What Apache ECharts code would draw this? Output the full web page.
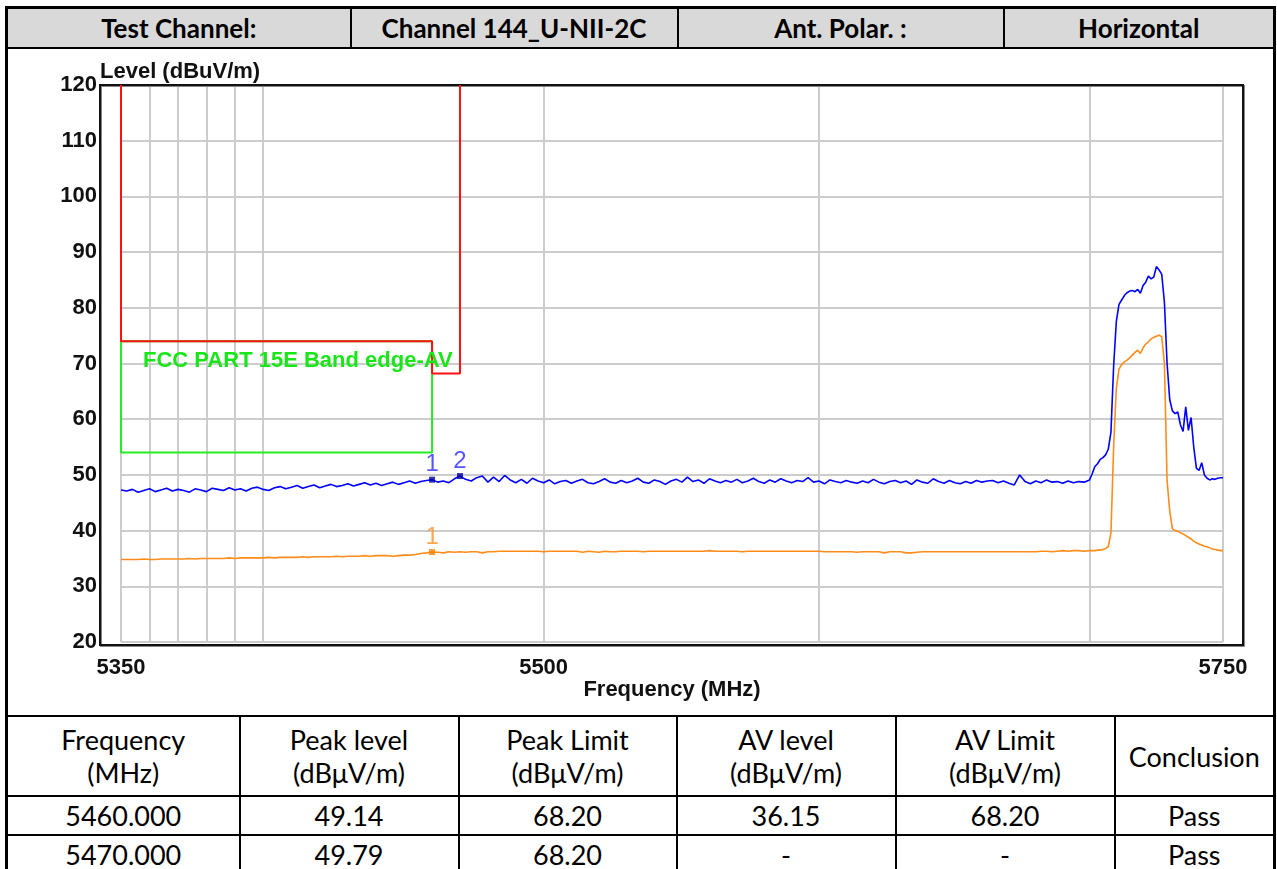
<!DOCTYPE html>
<html>
<head>
<meta charset="utf-8">
<script src="https://cdn.jsdelivr.net/npm/echarts@6/dist/echarts.min.js"></script>
<style>
  html, body { margin: 0; padding: 0; background: #fff; }
  #page { position: relative; width: 1277px; height: 869px; overflow: hidden; font-family: Lato, "Open Sans", sans-serif; }
  table { position: absolute; left: 5px; width: 1271px; border-collapse: collapse; table-layout: fixed; }
  td { border: 2px solid #000; text-align: center; padding: 0; color: #000; white-space: nowrap; }
  #head { top: 6px; }
  #head td { background: #d9d9d9; font-weight: bold; font-size: 26px; height: 38px; line-height: 30px; }
  #head tr td:first-child, #res tr td:first-child { border-left-width: 3px; }
  #head tr td:last-child, #res tr td:last-child { border-right-width: 3px; }
  #head td { border-top-width: 3px; }
  #mid { position: absolute; left: 5px; top: 48px; width: 1265px; height: 668px; border-left: 3px solid #000; border-right: 3px solid #000; }
  #res { top: 715px; }
  #res td { font-size: 27px; height: 37px; line-height: 33px; }
  #res tr.hd td { height: 78px; }
  #echart { position: absolute; left: 0; top: 0; width: 1277px; height: 869px; pointer-events: none; }
</style>
</head>
<body>
<div id="page">
  <table id="head">
    <colgroup><col style="width:344px"><col style="width:327px"><col style="width:326px"><col></colgroup>
    <tr><td>Test Channel:</td><td>Channel 144_U-NII-2C</td><td>Ant. Polar. :</td><td>Horizontal</td></tr>
  </table>
  <div id="mid"></div>
  <table id="res">
    <colgroup><col style="width:233px"><col style="width:219px"><col style="width:218px"><col style="width:219px"><col style="width:219px"><col></colgroup>
    <tr class="hd"><td>Frequency<br>(MHz)</td><td>Peak level<br>(dBμV/m)</td><td>Peak Limit<br>(dBμV/m)</td><td>AV level<br>(dBμV/m)</td><td>AV Limit<br>(dBμV/m)</td><td>Conclusion</td></tr>
    <tr><td>5460.000</td><td>49.14</td><td>68.20</td><td>36.15</td><td>68.20</td><td>Pass</td></tr>
    <tr><td>5470.000</td><td>49.79</td><td>68.20</td><td>-</td><td>-</td><td>Pass</td></tr>
  </table>
  <div id="echart"></div>
</div>
<script>
// sweep points: 2 MHz steps up to 5700, then 1 MHz steps to 5750
const sweepFreq = [];
for (let f = 5350; f <= 5700; f += 2) sweepFreq.push(f);
for (let f = 5701; f <= 5750; f += 1) sweepFreq.push(f);

// peak detector trace (blue), dBuV/m
const peakLevel = [
  47.3, 47.1, 47.4, 46.9, 47.2, 47.5, 47.0, 47.3, 47.6, 47.1,
  47.4, 47.2, 46.9, 47.5, 47.3, 47.0, 47.6, 47.4, 47.2, 47.7,
  47.3, 47.5, 47.1, 47.6, 47.8, 47.4, 47.2, 47.7, 47.9, 47.5,
  47.8, 48.1, 47.6, 47.9, 48.2, 47.7, 48.0, 48.3, 47.9, 48.1,
  48.4, 48.0, 48.3, 48.6, 48.2, 48.5, 48.1, 48.4, 48.7, 48.3,
  48.6, 48.9, 48.5, 48.8, 49.0, 49.14, 48.7, 48.9, 48.6, 49.3,
  49.79, 49.2, 48.9, 49.5, 49.8, 48.7, 49.6, 48.8, 49.9, 49.1,
  48.6, 49.2, 48.5, 49.4, 48.9, 48.6, 49.1, 48.4, 48.8, 49.0,
  48.5, 48.9, 49.2, 48.6, 48.4, 48.8, 49.3, 48.7, 48.5, 49.0,
  48.6, 48.9, 49.4, 48.7, 48.5, 49.1, 48.8, 48.3, 48.9, 49.2,
  48.7, 49.6, 48.8, 49.1, 48.5, 49.3, 48.9, 48.6, 49.0, 48.7,
  49.2, 48.6, 48.9, 49.4, 48.8, 48.5, 49.1, 48.7, 49.3, 48.9,
  48.6, 49.0, 48.8, 49.5, 48.7, 48.9, 48.4, 49.1, 48.8, 48.6,
  49.0, 48.7, 48.5, 48.9, 48.6, 49.2, 48.7, 48.4, 48.8, 49.0,
  48.6, 48.9, 48.3, 49.1, 48.7, 48.5, 49.3, 48.8, 48.5, 49.0,
  48.6, 48.4, 48.8, 48.5, 49.0, 48.7, 48.9, 49.0, 48.6, 48.9,
  48.5, 48.2, 50.0, 48.8, 48.4, 48.9, 48.6, 49.1, 48.7, 48.8,
  48.5, 48.9, 48.6, 48.8, 48.7, 49.1,
  50.2, 51.5, 52.0, 52.8, 53.1, 53.6, 54.6, 57.7, 69.5, 77.5,
  80.6, 81.4, 82.2, 82.7, 83.0, 83.1, 82.9, 83.3, 82.6, 84.0,
  84.6, 85.7, 85.2, 85.5, 87.4, 86.8, 86.0, 81.0, 70.0, 63.5,
  61.5, 61.0, 61.3, 59.0, 57.8, 62.2, 58.0, 60.3, 55.0, 51.2,
  50.8, 52.2, 50.0, 49.4, 49.1, 49.3, 49.2, 49.4, 49.5, 49.5
];

// average detector trace (orange), dBuV/m
const avLevel = [
  34.8, 34.8, 34.8, 34.8, 34.9, 34.8, 34.8, 34.9, 34.9, 34.9,
  34.9, 34.9, 35.0, 34.9, 35.0, 35.0, 35.0, 35.0, 35.0, 35.1,
  35.0, 35.1, 35.1, 35.1, 35.1, 35.1, 35.2, 35.1, 35.2, 35.2,
  35.2, 35.2, 35.3, 35.2, 35.3, 35.3, 35.3, 35.3, 35.4, 35.3,
  35.4, 35.4, 35.4, 35.5, 35.4, 35.5, 35.5, 35.5, 35.4, 35.5,
  35.6, 35.6, 35.7, 35.9, 36.0, 36.15, 36.1, 36.0, 36.2, 36.1,
  36.2, 36.1, 36.2, 36.2, 36.0, 36.2, 36.2, 36.3, 36.3, 36.3,
  36.3, 36.3, 36.3, 36.3, 36.3, 36.2, 36.3, 36.3, 36.3, 36.3,
  36.3, 36.3, 36.1, 36.3, 36.2, 36.1, 36.3, 36.2, 36.2, 36.3,
  36.3, 36.3, 36.3, 36.2, 36.3, 36.3, 36.3, 36.3, 36.3, 36.3,
  36.3, 36.3, 36.3, 36.3, 36.3, 36.4, 36.3, 36.3, 36.3, 36.3,
  36.3, 36.2, 36.3, 36.3, 36.3, 36.3, 36.3, 36.3, 36.3, 36.3,
  36.3, 36.3, 36.3, 36.3, 36.3, 36.3, 36.2, 36.2, 36.2, 36.2,
  36.2, 36.2, 36.1, 36.2, 36.2, 36.2, 36.2, 36.0, 36.2, 36.2,
  36.2, 36.0, 36.0, 36.1, 36.2, 36.2, 36.2, 36.2, 36.2, 36.2,
  36.2, 36.2, 36.2, 36.2, 36.2, 36.2, 36.2, 36.2, 36.2, 36.2,
  36.2, 36.2, 36.2, 36.2, 36.2, 36.2, 36.3, 36.3, 36.2, 36.3,
  36.4, 36.3, 36.4, 36.4, 36.3, 36.4,
  36.4, 36.4, 36.5, 36.5, 36.6, 36.8, 37.1, 39.6, 55.0, 65.5,
  69.0, 69.8, 70.3, 70.6, 71.0, 71.5, 72.0, 72.4, 71.8, 72.8,
  73.5, 73.9, 74.4, 74.7, 74.9, 75.1, 74.8, 70.0, 49.0, 43.5,
  40.3, 40.0, 39.9, 39.6, 39.4, 39.1, 38.8, 38.5, 38.1, 37.8,
  37.6, 37.4, 37.2, 37.1, 36.9, 36.7, 36.6, 36.5, 36.4, 36.4
];

// limit lines [MHz, dBuV/m]
const peakLimit = [[5350, 120], [5350, 74], [5460, 74], [5460, 68.2], [5470, 68.2], [5470, 120]];
const avLimit = [[5350, 74], [5350, 54], [5460, 54], [5460, 74], [5350, 74]];

// markers
const peakMarks = [[5460, 49.14], [5470, 49.79]];
const avMarks = [[5460, 36.15]];

const gridFreqs = [5350, 5360, 5370, 5380, 5390, 5400, 5500, 5600, 5700, 5750];
const labelFreqs = [5350, 5500, 5750];

const axisFont = '"Liberation Sans", Arial, sans-serif';
const axisText = { fontFamily: axisFont, fontWeight: "bold", fontSize: 22, color: "#111" };

let chartMy = echarts.init(document.getElementById("echart"));

const option = {
  animation: false,
  grid: { left: 121, right: 54, top: 85, bottom: 227, outerBoundsMode: "none" },
  xAxis: {
    type: "log",
    logBase: 10,
    min: 5350,
    max: 5750,
    name: "Frequency (MHz)",
    nameLocation: "middle",
    nameGap: 37,
    nameMoveOverlap: false,
    nameTextStyle: axisText,
    axisLine: { show: false },
    axisTick: { show: false, customValues: gridFreqs },
    axisLabel: Object.assign({ customValues: labelFreqs, margin: 15, formatter: (v) => String(Math.round(v)) }, axisText),
    splitLine: { show: true, lineStyle: { color: "#cccccc", width: 2 } },
  },
  yAxis: {
    type: "value",
    min: 20,
    max: 120,
    interval: 10,
    name: "Level (dBuV/m)",
    nameLocation: "end",
    nameGap: 2,
    nameMoveOverlap: false,
    nameTextStyle: Object.assign({ align: "left", padding: [0, 0, 0, -21] }, axisText),
    axisLine: { show: false },
    axisTick: { show: false },
    axisLabel: Object.assign({ margin: 24, padding: [6, 0, 0, 0] }, axisText),
    splitLine: { show: true, lineStyle: { color: "#cccccc", width: 2 } },
  },
  graphic: [
    {
      type: "rect",
      z: 1,
      shape: { x: 101, y: 86, width: 1143, height: 560 },
      style: { fill: "none", stroke: "#888", lineWidth: 2 },
    },
    {
      type: "rect",
      z: 1,
      shape: { x: 100, y: 85, width: 1143, height: 560 },
      style: { fill: "none", stroke: "#111", lineWidth: 2 },
    },
    {
      type: "text",
      z: 10,
      style: {
        x: 143, y: 361, text: "FCC PART 15E Band edge-AV",
        fill: "#19e619", font: 'bold 22px "Liberation Sans", Arial, sans-serif',
        verticalAlign: "middle",
      },
    },
  ],
  series: [
    {
      type: "line", name: "AV limit", data: avLimit, symbol: "none", z: 3,
      lineStyle: { color: "#22ee22", width: 2 },
    },
    {
      type: "line", name: "Peak limit", data: peakLimit, symbol: "none", z: 4,
      lineStyle: { color: "#ff1111", width: 2 },
    },
    {
      type: "line", name: "AV", symbol: "none", z: 5,
      data: sweepFreq.map((f, i) => [f, avLevel[i]]),
      lineStyle: { color: "#ff8c1a", width: 1.6 },
    },
    {
      type: "line", name: "Peak", symbol: "none", z: 6,
      data: sweepFreq.map((f, i) => [f, peakLevel[i]]),
      lineStyle: { color: "#0000ff", width: 1.6 },
    },
    {
      type: "scatter", name: "Peak marks", data: peakMarks, symbol: "rect", symbolSize: 6, z: 7,
      itemStyle: { color: "#0000a0" },
      label: {
        show: true, position: "top", distance: 0,
        formatter: (p) => String(p.dataIndex + 1),
        color: "#2b2bff", fontSize: 24, fontFamily: axisFont,
      },
    },
    {
      type: "scatter", name: "AV marks", data: avMarks, symbol: "rect", symbolSize: 6, z: 7,
      itemStyle: { color: "#ff7f00" },
      label: {
        show: true, position: "top", distance: 0,
        formatter: (p) => String(p.dataIndex + 1),
        color: "#ff9020", fontSize: 24, fontFamily: axisFont,
      },
    },
  ],
};

option && chartMy.setOption(option);
window.addEventListener("resize", () => chartMy.resize());
</script>
</body>
</html>
